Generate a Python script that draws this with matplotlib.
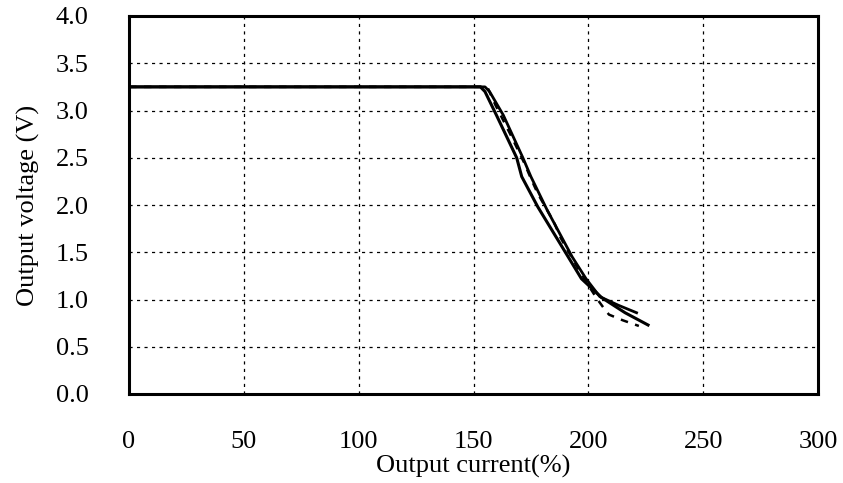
import matplotlib
matplotlib.use("Agg")
import matplotlib.pyplot as plt

plt.rcParams['font.family'] = ['Liberation Serif', 'DejaVu Serif']

# Solid curve A
xa = [0, 153, 155, 160, 168.8, 171, 178, 190, 197, 205.8, 216, 226]
ya = [3.25, 3.25, 3.20, 2.95, 2.50, 2.30, 1.98, 1.50, 1.22, 1.02, 0.86, 0.73]
# Solid curve B
xb = [0, 155, 157, 163, 171.5, 175, 182, 193, 199, 205, 213, 221]
yb = [3.25, 3.25, 3.20, 2.95, 2.50, 2.30, 1.95, 1.45, 1.22, 1.03, 0.94, 0.86]
# Dashed curve C
xc = [0, 156, 159.5, 166, 172, 175, 178, 185, 188, 195, 200, 204, 207, 209, 215, 222]
yc = [3.25, 3.25, 3.06, 2.75, 2.45, 2.28, 2.12, 1.82, 1.65, 1.35, 1.15, 1.00, 0.90, 0.84, 0.78, 0.72]

xticks = [0, 50, 100, 150, 200, 250, 300]
yticks = [0.0, 0.5, 1.0, 1.5, 2.0, 2.5, 3.0, 3.5, 4.0]

fig = plt.figure(figsize=(8.43, 4.83), dpi=100)
ax = fig.add_axes([129/843, 1-394/483, (818-129)/843, (394-16)/483])

ax.plot(xa, ya, color='black', lw=2.2)
ax.plot(xb, yb, color='black', lw=2.0)
ax.plot(xc, yc, color='black', lw=1.8, ls=(0, (3, 3)))

ax.set_xlim(0, 300)
ax.set_ylim(0, 4.0)
ax.set_xticks(xticks)
ax.set_yticks(yticks)
ax.set_xticklabels([str(v) for v in xticks])
ax.set_yticklabels([f"{v:.1f}" for v in yticks])
ax.tick_params(axis='x', length=0, pad=27, labelsize=19)
ax.tick_params(axis='y', length=0, pad=29, labelsize=19)
ax.grid(True, color='black', lw=0.9, ls=(0, (2.5, 3.5)))
for s in ax.spines.values():
    s.set_linewidth(2.2)
    s.set_color('black')
ax.set_xlabel('Output current(%)', fontsize=19, labelpad=1)
ax.set_ylabel('Output voltage (V)', fontsize=19, labelpad=11)

fig.savefig('out.png', dpi=100)
